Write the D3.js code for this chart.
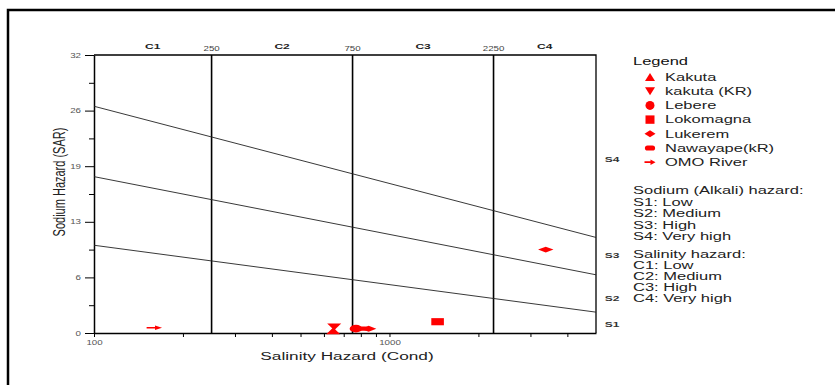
<!DOCTYPE html>
<html>
<head>
<meta charset="utf-8">
<script src="https://cdn.jsdelivr.net/npm/d3@7"></script>
<style>
body { margin: 0; background: #fff; }
svg { display: block; font-family: Arial, "Liberation Sans", sans-serif; }
</style>
</head>
<body>
<script>
// canvas
var width = 835;
var height = 385;
var SX = 1.5; // text in the picture is stretched sideways

// legend sites and their marker shapes
var sites = ["Kakuta", "kakuta (KR)", "Lebere", "Lokomagna", "Lukerem", "Nawayape(kR)", "OMO River"];
var shapes = ["triUp", "triDown", "circle", "square", "diamond", "pill", "arrow"];

// samples (salinity as conductivity, sodium as SAR)
var pointSite = ["OMO River", "Kakuta", "kakuta (KR)", "Lebere", "Nawayape(kR)", "Lukerem", "Lokomagna", "Lukerem"];
var pointEC = [160, 645, 650, 770, 805, 850, 1455, 3380];
var pointSAR = [0.6, 0.25, 0.7, 0.5, 0.5, 0.5, 1.3, 9.6];

// hazard class boundaries
var classEC = [250, 750, 2250];
var classNames = ["C1", "C2", "C3", "C4"];
var sLineLeft = [10.1, 18.0, 26.1];  // SAR at EC = 100
var sLineRight = [2.4, 6.7, 11.0];   // SAR at EC = 5000
var sNames = ["S1", "S2", "S3", "S4"];
var sNameSAR = [1, 4, 9, 20];

// ticks
var yTickVals = [0, 6.4, 12.8, 19.2, 25.6, 32];
var yTickLabels = ["0", "6", "13", "19", "26", "32"];
var yMinorVals = [3.2, 9.6, 16, 22.4, 28.8];
var xTickVals = [100, 1000];
var xMinorVals = [200, 300, 400, 500, 600, 700, 800, 900, 2000, 3000, 4000];

// notes beside the plot
var sodiumText = ["Sodium (Alkali) hazard:", "S1: Low", "S2: Medium", "S3: High", "S4: Very high"];
var salinityText = ["Salinity hazard:", "C1: Low", "C2: Medium", "C3: High", "C4: Very high"];

var plot = {left: 94, right: 596, top: 55, bottom: 333};

var svg = d3.select("body").append("svg")
  .attr("width", width)
  .attr("height", height);

// outer frame, runs off the right and bottom
svg.append("rect")
  .attr("x", 8).attr("y", 10)
  .attr("width", 900).attr("height", 500)
  .attr("fill", "none")
  .attr("stroke", "#000")
  .attr("stroke-width", 2.5);

var x = d3.scaleLog().domain([100, 5000]).range([plot.left, plot.right]);
var y = d3.scaleLinear().domain([0, 32]).range([plot.bottom, plot.top]);

// text helper, stretched sideways like the picture
function label(parent, tx, ty, str, size, anchor, weight, fill) {
  return parent.append("text")
    .attr("transform", "translate(" + tx + "," + ty + ") scale(" + SX + ",1)")
    .attr("dy", "0.35em")
    .attr("text-anchor", anchor)
    .attr("font-size", size)
    .attr("font-weight", weight || "normal")
    .attr("fill", fill || "#222")
    .text(str);
}

// marker paths centred on 0,0
function markerPath(shape) {
  switch (shape) {
    case "triUp": return "M0,-4L5,4L-5,4Z";
    case "triDown": return "M0,4L5,-4L-5,-4Z";
    case "circle": return "M-4.5,0a4.5,4.5 0 1 0 9,0a4.5,4.5 0 1 0 -9,0Z";
    case "square": return "M-4.5,-4.2h9v8.4h-9Z";
    case "diamond": return "M-5.5,0L0,-3.5L5.5,0L0,3.5Z";
    case "pill": return "M-2.5,-2.6h5a2.6,2.6 0 0 1 0,5.2h-5a2.6,2.6 0 0 1 0,-5.2Z";
    case "arrow": return "M-5.5,-0.9h6v-1.8l5,2.7l-5,2.7v-1.8h-6Z";
  }
}

// y axis
var yAxis = svg.append("g")
  .attr("transform", "translate(" + plot.left + ",0)")
  .call(d3.axisLeft(y).tickValues(yTickVals)
    .tickFormat(function(d, i) { return yTickLabels[i]; })
    .tickSize(9).tickSizeOuter(0));
svg.append("g")
  .attr("transform", "translate(" + plot.left + ",0)")
  .call(d3.axisLeft(y).tickValues(yMinorVals).tickFormat("").tickSize(5).tickSizeOuter(0))
  .select(".domain").remove();

// x axis
var xAxis = svg.append("g")
  .attr("transform", "translate(0," + plot.bottom + ")")
  .call(d3.axisBottom(x).tickValues(xTickVals)
    .tickFormat(d3.format("d"))
    .tickSize(4).tickSizeOuter(0));
svg.append("g")
  .attr("transform", "translate(0," + plot.bottom + ")")
  .call(d3.axisBottom(x).tickValues(xMinorVals).tickFormat("").tickSize(4).tickSizeOuter(0))
  .select(".domain").remove();

svg.selectAll(".tick line").attr("stroke", "#000").attr("stroke-width", 1);
svg.selectAll(".domain").attr("stroke", "#000").attr("stroke-width", 1.5);
yAxis.selectAll(".tick text")
  .attr("x", null)
  .attr("transform", "translate(-13,0) scale(" + SX + ",1)")
  .attr("font-size", 6.5).attr("fill", "#555");
xAxis.selectAll(".tick text")
  .attr("y", null).attr("dy", "0.35em")
  .attr("transform", "translate(0,10) scale(" + SX + ",1)")
  .attr("font-size", 6.5).attr("fill", "#555");

// top and right frame of the plot
svg.append("path")
  .attr("d", "M" + plot.left + "," + plot.top + "H" + plot.right + "V" + plot.bottom)
  .attr("fill", "none").attr("stroke", "#000").attr("stroke-width", 1.3);

// salinity class dividers
svg.selectAll(".cline").data(classEC).enter().append("line")
  .attr("class", "cline")
  .attr("x1", function(d) { return x(d); }).attr("x2", function(d) { return x(d); })
  .attr("y1", plot.top).attr("y2", plot.bottom)
  .attr("stroke", "#000").attr("stroke-width", 1.6);

classEC.forEach(function(d) {
  label(svg, x(d), 48.5, String(d), 6.5, "middle", "normal", "#444");
});
var classEdges = [100].concat(classEC, [5000]);
classNames.forEach(function(n, i) {
  var mid = Math.sqrt(classEdges[i] * classEdges[i + 1]);
  label(svg, x(mid), 46, n, 8, "middle", "bold", "#222");
});

// sodium class dividers
svg.selectAll(".sline").data(sLineLeft).enter().append("line")
  .attr("class", "sline")
  .attr("x1", x(100)).attr("x2", x(5000))
  .attr("y1", function(d) { return y(d); })
  .attr("y2", function(d, i) { return y(sLineRight[i]); })
  .attr("stroke", "#222").attr("stroke-width", 0.9);

sNames.forEach(function(n, i) {
  label(svg, 612, y(sNameSAR[i]), n, 8, "middle", "bold", "#333");
});

// sample points (drawn wider than tall, as in the picture)
svg.selectAll(".pt").data(pointEC).enter().append("path")
  .attr("class", "pt")
  .attr("transform", function(d, i) {
    return "translate(" + x(d) + "," + y(pointSAR[i]) + ") scale(1.4,0.85)";
  })
  .attr("d", function(d, i) { return markerPath(shapes[sites.indexOf(pointSite[i])]); })
  .attr("fill", "#f00");

// axis titles
label(svg, 347, 356, "Salinity Hazard (Cond)", 11.5, "middle", "normal", "#222");
svg.append("text")
  .attr("transform", "translate(59,182) scale(" + SX + ",1) rotate(-90)")
  .attr("dy", "0.35em")
  .attr("text-anchor", "middle")
  .attr("font-size", 11)
  .attr("fill", "#222")
  .text("Sodium Hazard (SAR)");

// legend
label(svg, 633, 61, "Legend", 11, "start", "normal", "#111");
var leg = svg.selectAll(".leg").data(sites).enter().append("g")
  .attr("class", "leg")
  .attr("transform", function(d, i) { return "translate(650," + (77 + i * 14.2) + ")"; });
leg.append("path")
  .attr("d", function(d, i) { return markerPath(shapes[i]); })
  .attr("fill", "#f00");
leg.each(function(d) { label(d3.select(this), 15, 0, d, 11, "start", "normal", "#222"); });

// hazard notes
sodiumText.forEach(function(t, i) { label(svg, 633, 190.5 + i * 11.5, t, 11, "start", "normal", "#222"); });
salinityText.forEach(function(t, i) { label(svg, 633, 254.5 + i * 11, t, 11, "start", "normal", "#222"); });
</script>
</body>
</html>
